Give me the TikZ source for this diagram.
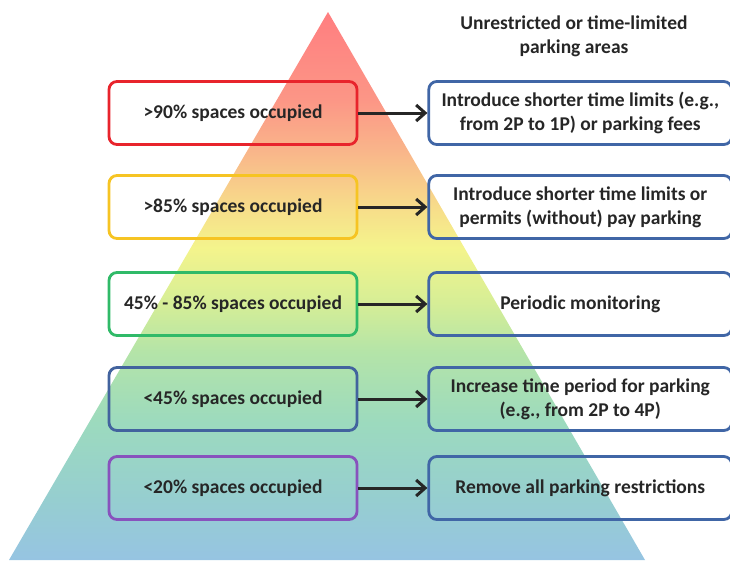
\documentclass[tikz,border=0pt]{standalone}
\usepackage{fontspec}
\setmainfont{Carlito}
\usetikzlibrary{arrows.meta,positioning}

% pyramid colours, bottom to top
\definecolor{pyrA}{RGB}{150,196,226}
\definecolor{pyrB}{RGB}{150,206,208}
\definecolor{pyrC}{RGB}{156,218,190}
\definecolor{pyrD}{RGB}{180,228,168}
\definecolor{pyrE}{RGB}{214,238,150}
\definecolor{pyrF}{RGB}{244,244,140}
\definecolor{pyrG}{RGB}{247,222,138}
\definecolor{pyrH}{RGB}{249,180,138}
\definecolor{pyrI}{RGB}{252,150,134}
\definecolor{pyrJ}{RGB}{255,126,128}
% box borders
\definecolor{lvlred}{RGB}{232,36,44}
\definecolor{lvlgold}{RGB}{246,196,35}
\definecolor{lvlgreen}{RGB}{48,186,104}
\definecolor{lvlblue}{RGB}{66,99,158}
\definecolor{lvlpurple}{RGB}{136,82,189}
\definecolor{actblue}{RGB}{64,102,166}
\definecolor{textgray}{RGB}{38,38,38}

% the path box is mapped onto 25bp..75bp
\pgfdeclareverticalshading{pyramid}{100bp}{
  color(0bp)=(pyrA); color(25bp)=(pyrA); color(30.5bp)=(pyrB);
  color(37.5bp)=(pyrC); color(44bp)=(pyrD); color(48.5bp)=(pyrE);
  color(53.5bp)=(pyrF); color(57bp)=(pyrG); color(62.5bp)=(pyrH);
  color(67bp)=(pyrI); color(75bp)=(pyrJ); color(100bp)=(pyrJ)}

\begin{document}
\begin{tikzpicture}[
  x=1pt, y=-1pt,
  font=\fontsize{19.5}{24}\selectfont\bfseries,
  level/.style={draw, line width=2.8pt, rounded corners=8pt, align=center, minimum width=248pt, minimum height=63pt, text=textgray},
  action/.style={level, draw=actblue, minimum width=303pt},
  arrow/.style={-{Straight Barb[length=9pt,width=16pt]}, line width=3pt, textgray}
]
\useasboundingbox (0,0) rectangle (730,560);
\clip (0,0) rectangle (730,560);

% the pyramid
\shade[shading=pyramid] (328,12) -- (645,560) -- (9,560) -- cycle;

\node[text=textgray, align=center] (title) at (574,36) {Unrestricted or time-limited\\parking areas};

% occupancy levels
\node[level, draw=lvlred] (lvl1) at (233,113) {>90\% spaces occupied};
\node[level, draw=lvlgold] (lvl2) at (233,207) {>85\% spaces occupied};
\node[level, draw=lvlgreen] (lvl3) at (233,304) {45\% - 85\% spaces occupied};
\node[level, draw=lvlblue] (lvl4) at (233,399) {<45\% spaces occupied};
\node[level, draw=lvlpurple] (lvl5) at (233,488) {<20\% spaces occupied};

% actions
\node[action, right=69pt of lvl1] (act1) {Introduce shorter time limits (e.g.,\\from 2P to 1P) or parking fees};
\node[action, right=69pt of lvl2] (act2) {Introduce shorter time limits or\\permits (without) pay parking};
\node[action, right=69pt of lvl3] (act3) {Periodic monitoring};
\node[action, right=69pt of lvl4] (act4) {Increase time period for parking\\(e.g., from 2P to 4P)};
\node[action, right=69pt of lvl5] (act5) {Remove all parking restrictions};

\foreach \i in {1,...,5}
  \draw[arrow] (lvl\i) -- (act\i);
\end{tikzpicture}
\end{document}
